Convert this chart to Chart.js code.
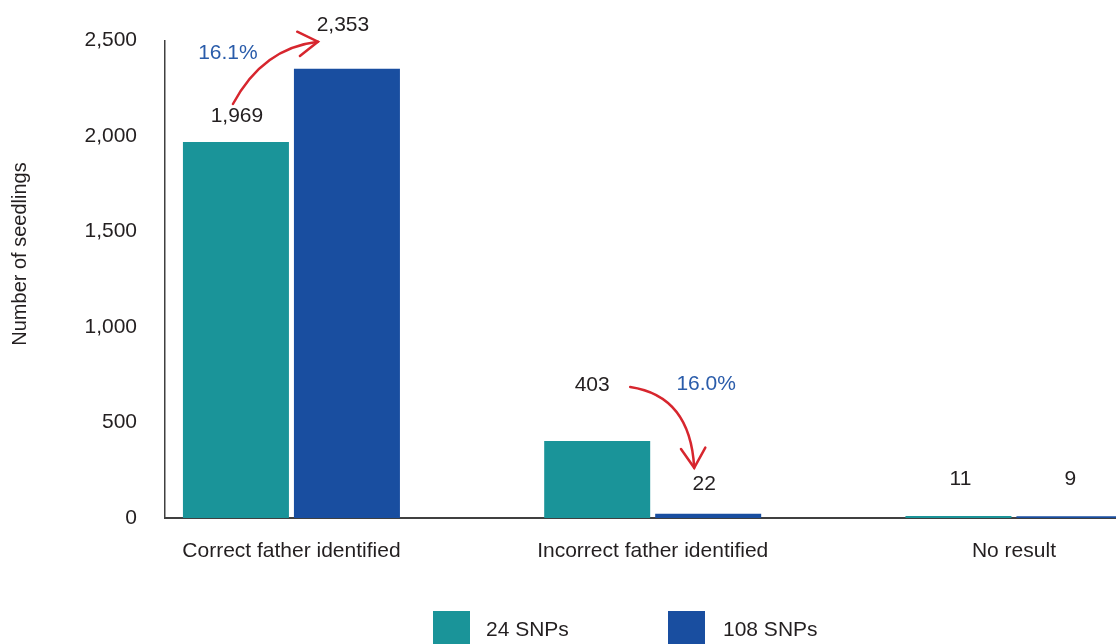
<!DOCTYPE html>
<html><head><meta charset="utf-8">
<script src="https://cdn.jsdelivr.net/npm/chart.js@4/dist/chart.umd.min.js"></script>
<style>html,body{margin:0;padding:0;background:#fff;overflow:hidden}</style>
</head><body>
<canvas id="c" width="1116" height="644"></canvas>
<script>
const categories = ['Correct father identified', 'Incorrect father identified', 'No result'];
const seriesNames = ['24 SNPs', '108 SNPs'];
const series24 = [1969, 403, 11];
const series108 = [2353, 22, 9];
const changeLabels = ['16.1%', '16.0%'];
const yTicks = [0, 500, 1000, 1500, 2000, 2500];

const FONT = '"Liberation Sans", Arial, sans-serif';
const TEXT = '#231f20';
const AXIS = '#404040';
const TEAL = '#1a9499';
const BLUE = '#194ea0';
const RED = '#d7262e';
const PCT = '#2a5caa';

// label offsets (px) relative to bar top-centre
const labelOffsets = [[[1, -26], [-5, -56], [2, -37]], [[-4, -43], [-4, -30], [1, -37]]];
const arrows = [
  {from: [0, 0], fromOff: [-4, -12], to: [1, 0], toOff: [-25, 16], bend: [0.35, 0.9], text: 0, textAnchor: [0, 0], textOff: [-9, -63]},
  {from: [0, 1], fromOff: [38, 2], to: [1, 1], toOff: [-10, -16], bend: [0.94, 0.11], text: 1, textAnchor: [1, 1], textOff: [2, -100]}
];

const annot = {
  id: 'annot',
  afterDatasetsDraw(chart) {
    const ctx = chart.ctx;
    const pos = (ds, i) => {
      const el = chart.getDatasetMeta(ds).data[i];
      const o = labelOffsets[ds][i];
      return {x: el.x + o[0], y: el.y + o[1]};
    };
    ctx.save();
    ctx.font = '21px ' + FONT;
    ctx.fillStyle = TEXT;
    ctx.textAlign = 'center';
    ctx.textBaseline = 'middle';
    [series24, series108].forEach((arr, ds) => arr.forEach((v, i) => {
      const p = pos(ds, i);
      ctx.fillText(v.toLocaleString('en-US'), p.x, p.y);
    }));
    arrows.forEach(a => {
      const p0 = pos(a.from[0], a.from[1]);
      const p1 = pos(a.to[0], a.to[1]);
      const s = {x: p0.x + a.fromOff[0], y: p0.y + a.fromOff[1]};
      const e = {x: p1.x + a.toOff[0], y: p1.y + a.toOff[1]};
      const c = {x: s.x + a.bend[0] * (e.x - s.x), y: s.y + a.bend[1] * (e.y - s.y)};
      ctx.strokeStyle = RED;
      ctx.lineWidth = 2.5;
      ctx.lineCap = 'round';
      ctx.lineJoin = 'miter';
      ctx.beginPath();
      ctx.moveTo(s.x, s.y);
      ctx.quadraticCurveTo(c.x, c.y, e.x, e.y);
      ctx.stroke();
      const ang = Math.atan2(e.y - c.y, e.x - c.x);
      const L = 23, h = 32 * Math.PI / 180;
      ctx.beginPath();
      ctx.moveTo(e.x - L * Math.cos(ang - h), e.y - L * Math.sin(ang - h));
      ctx.lineTo(e.x, e.y);
      ctx.lineTo(e.x - L * Math.cos(ang + h), e.y - L * Math.sin(ang + h));
      ctx.stroke();
      const tp = pos(a.textAnchor[0], a.textAnchor[1]);
      ctx.fillStyle = PCT;
      ctx.fillText(changeLabels[a.text], tp.x + a.textOff[0], tp.y + a.textOff[1]);
    });
    ctx.restore();
  },
  afterDraw(chart) {
    const ctx = chart.ctx;
    ctx.save();
    // legend
    const items = [{x: 433, tx: 486}, {x: 668, tx: 723}];
    ctx.font = '21px ' + FONT;
    ctx.textAlign = 'left';
    ctx.textBaseline = 'middle';
    chart.data.datasets.forEach((d, i) => {
      ctx.fillStyle = d.backgroundColor;
      ctx.fillRect(items[i].x, 611, 37, 40);
      ctx.fillStyle = TEXT;
      ctx.fillText(d.label, items[i].tx, 630);
    });
    // y title
    ctx.translate(20, 254);
    ctx.rotate(-Math.PI / 2);
    ctx.textAlign = 'center';
    ctx.font = '20px ' + FONT;
    ctx.fillText('Number of seedlings', 0, 0);
    ctx.restore();
  }
};

new Chart(document.getElementById('c'), {
  type: 'bar',
  data: {
    datasets: [
      {label: seriesNames[0], data: series24.map((v, i) => ({x: i, y: v})), backgroundColor: TEAL, categoryPercentage: 0.6145, barPercentage: 0.955},
      {label: seriesNames[1], data: series108.map((v, i) => ({x: i, y: v})), backgroundColor: BLUE, categoryPercentage: 0.6145, barPercentage: 0.955}
    ]
  },
  options: {
    responsive: false,
    animation: false,
    devicePixelRatio: 1,
    layout: {padding: {top: 38, left: 0, right: 0, bottom: 0}},
    plugins: {legend: {display: false}, tooltip: {enabled: false}},
    scales: {
      x: {
        type: 'linear', min: -0.35, max: 2.2825, offset: false,
        grid: {display: false, drawTicks: false},
        border: {display: true, color: AXIS, width: 2},
        afterBuildTicks: s => { s.ticks = categories.map((_, i) => ({value: i})); },
        afterFit: s => { s.height = 126; },
        ticks: {callback: v => categories[v], color: TEXT, font: {family: FONT, size: 21}, padding: 21, maxRotation: 0, autoSkip: false}
      },
      y: {
        min: 0, max: 2500,
        afterBuildTicks: s => { s.ticks = yTicks.map(v => ({value: v})); },
        afterFit: s => { s.width = 165; },
        grid: {display: false, drawTicks: false},
        border: {display: true, color: AXIS, width: 1.5},
        ticks: {callback: v => v.toLocaleString('en-US'), color: TEXT, font: {family: FONT, size: 21}, padding: 28}
      }
    }
  },
  plugins: [annot]
});
</script>
</body></html>
